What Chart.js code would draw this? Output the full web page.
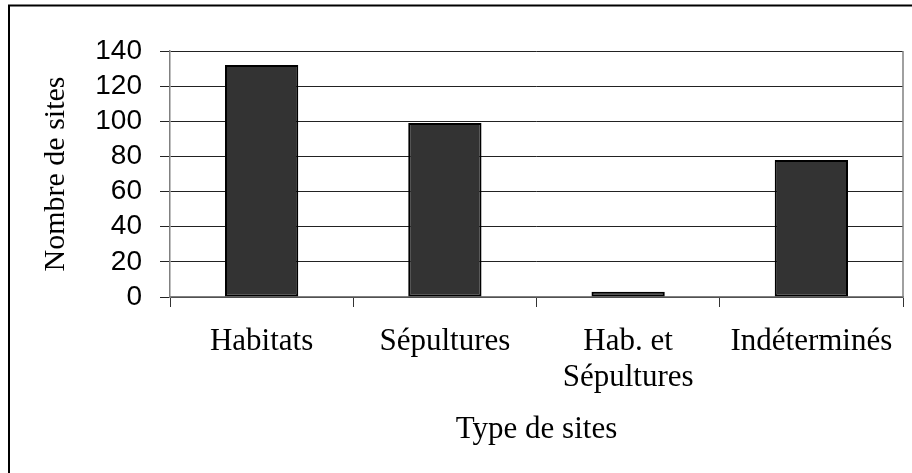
<!DOCTYPE html>
<html>
<head>
<meta charset="utf-8">
<script src="https://cdn.jsdelivr.net/npm/chart.js@4"></script>
<style>
  html, body { margin: 0; padding: 0; background: #fff; }
  #wrap { width: 912px; height: 473px; }
</style>
</head>
<body>
<div id="wrap"><canvas id="sitesChart" width="912" height="473"></canvas></div>
<script>
// Nombre de sites par type
const categories = ['Habitats', 'Sépultures', ['Hab. et', 'Sépultures'], 'Indéterminés'];
const siteCounts = [132, 99, 3, 78];
const yTicks = [0, 20, 40, 60, 80, 100, 120, 140];

const serif = 'Liberation Serif, Times New Roman, serif';
const sans = 'Liberation Sans, Arial, sans-serif';

// outer frame of the chart and right edge of the plot area
const framePlugin = {
    id: 'frame',
    afterDraw(c) {
        const ctx = c.ctx;
        const a = c.chartArea;
        ctx.save();
        ctx.strokeStyle = '#000';
        ctx.lineWidth = 2;
        ctx.beginPath();
        ctx.moveTo(9, 1000);
        ctx.lineTo(9, 5.5);
        ctx.lineTo(1000, 5.5);
        ctx.stroke();
        ctx.strokeStyle = '#808080';
        ctx.lineWidth = 1.5;
        ctx.beginPath();
        ctx.moveTo(a.right, a.top);
        ctx.lineTo(a.right, a.bottom);
        ctx.stroke();
        ctx.restore();
    }
};

const chart = new Chart(document.getElementById('sitesChart'), {
    type: 'bar',
    data: {
        labels: categories,
        datasets: [{
            data: siteCounts,
            backgroundColor: '#333333',
            borderColor: '#000000',
            borderWidth: 2,
            borderSkipped: false,
            barPercentage: 0.4,
            categoryPercentage: 1
        }]
    },
    options: {
        responsive: false,
        animation: false,
        events: [],
        layout: { padding: { top: 51, right: 9, left: 0, bottom: 0 } },
        plugins: {
            legend: { display: false },
            tooltip: { enabled: false }
        },
        scales: {
            x: {
                afterFit(scale) { scale.height = 176; },
                grid: {
                    offset: true,
                    drawOnChartArea: false,
                    drawTicks: true,
                    tickLength: 10,
                    tickColor: '#333'
                },
                border: { color: '#808080', width: 1.5 },
                ticks: {
                    color: '#000',
                    font: { family: serif, size: 31, lineHeight: 1.16 },
                    padding: 17,
                    maxRotation: 0,
                    autoSkip: false
                },
                title: {
                    display: true,
                    text: 'Type de sites',
                    color: '#000',
                    font: { family: serif, size: 31, lineHeight: 1.2 },
                    padding: { top: 0, bottom: 25 }
                }
            },
            y: {
                min: 0,
                max: 140,
                afterFit(scale) { scale.width = 170; },
                afterBuildTicks(scale) {
                    scale.ticks = yTicks.map(v => ({ value: v }));
                },
                grid: {
                    color: '#222',
                    lineWidth: 1,
                    drawTicks: true,
                    tickLength: 10,
                    tickColor: '#222'
                },
                border: { color: '#808080', width: 1.5 },
                ticks: {
                    color: '#000',
                    font: { family: sans, size: 28 },
                    padding: 18,
                    autoSkip: false
                },
                title: {
                    display: true,
                    text: 'Nombre de sites',
                    color: '#000',
                    font: { family: serif, size: 30, lineHeight: 1.2 },
                    padding: { top: 38, bottom: 0 }
                }
            }
        }
    },
    plugins: [framePlugin]
});
</script>
</body>
</html>
